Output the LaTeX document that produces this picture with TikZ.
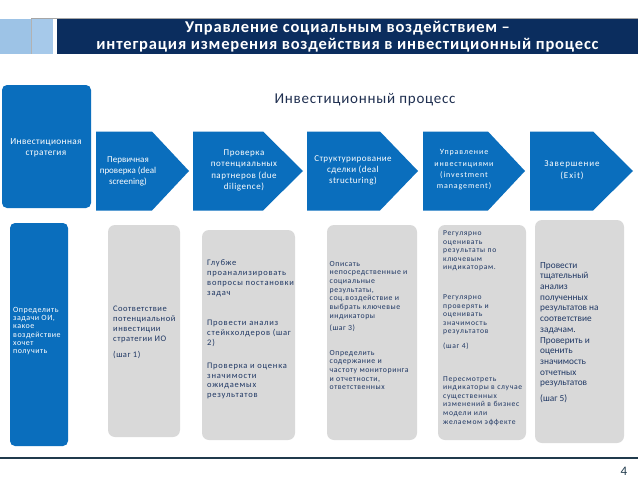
\documentclass[tikz,border=0pt]{standalone}
\usepackage{fontspec}
\setmainfont{Carlito}
\definecolor{navy}{HTML}{0B2D5E}
\definecolor{lblue}{HTML}{9DC3E6}
\definecolor{lblueb}{HTML}{A6C9EA}
\definecolor{mblue}{HTML}{0A6EBD}
\definecolor{gbox}{HTML}{D9D9D9}
\definecolor{gtext}{HTML}{203864}
\definecolor{fline}{HTML}{203A4C}
\definecolor{ptitle}{HTML}{1F2F50}
\newcommand{\fsz}[3]{\fontsize{#1}{#2}\selectfont\addfontfeature{LetterSpace=#3}}
\tikzset{
  bluebox/.style={fill=mblue, rounded corners=5pt, inner sep=0pt, draw=none},
  graybox/.style={fill=gbox, rounded corners=7pt, inner sep=0pt, draw=none},
  chevshape/.style={fill=mblue, draw=none},
  chevtxt/.style={text=white, align=center, inner sep=0pt, font=\fsz{9}{11}{0}},
  boxtxt/.style={text=gtext, align=left, inner sep=0pt, anchor=west},
}
\begin{document}
\begin{tikzpicture}[x=1pt,y=-1pt]
\useasboundingbox (0,0) rectangle (638,479);
\fill[white] (0,0) rectangle (638,479);
% header
\fill[lblue] (0,18.5) rectangle (31,54);
\fill[lblueb] (31,18.5) rectangle (53,54);
\draw[gray!60, line width=0.5pt] (31,18.5) -- (31,54);
\fill[navy] (57,18.5) rectangle (638,54);
\draw[gray!70, line width=0.6pt] (31,18.5) -- (638,18.5);
\node[text=white, align=center, inner sep=0pt, font=\bfseries\fsz{16.5}{17.5}{5}] (title) at (347.5,36.5)
  {Управление социальным воздействием –\\интеграция измерения воздействия в инвестиционный процесс};
% process title
\node[text=ptitle, inner sep=0pt, font=\fsz{15}{17}{5}] (proc) at (365,100) {Инвестиционный процесс};
% strategy box
\node[bluebox, minimum width=89pt, minimum height=123pt] (strat) at (46.5,146.5) {};
\node[chevtxt, font=\fsz{9.3}{11}{4}] (strattxt) at (46,147.5) {Инвестиционная\\стратегия};
% chevrons
\fill[chevshape] (96,131.5) -- (152,131.5) -- (189,171) -- (152,210.5) -- (96,210.5) -- cycle;
\fill[chevshape] (193,131.5) -- (263,131.5) -- (303,171) -- (263,210.5) -- (193,210.5) -- cycle;
\fill[chevshape] (307,131.5) -- (380,131.5) -- (418,171) -- (380,210.5) -- (307,210.5) -- cycle;
\fill[chevshape] (423,131.5) -- (488,131.5) -- (525,171) -- (488,210.5) -- (423,210.5) -- cycle;
\fill[chevshape] (530,131.5) -- (593,131.5) -- (633,171) -- (593,210.5) -- (530,210.5) -- cycle;
\node[chevtxt] (c1) at (128,171) {Первичная\\проверка (deal\\screening)};
\node[chevtxt, font=\fsz{9}{11.5}{6}] (c2) at (244,170.5) {Проверка\\потенциальных\\партнеров (due\\diligence)};
\node[chevtxt, font=\fsz{9}{11}{5}] (c3) at (353,170) {Структурирование\\сделки (deal\\structuring)};
\node[chevtxt, font=\fsz{8}{11.3}{11}] (c4) at (464,170) {Управление\\инвестициями\\(investment\\management)};
\node[chevtxt, font=\fsz{9}{12}{10}] (c5) at (572,170) {Завершение\\(Exit)};
% bottom boxes
\node[bluebox, minimum width=58pt, minimum height=223pt] (b1) at (39,334.5) {};
\node[graybox, minimum width=72pt, minimum height=212pt] (b2) at (144,331) {};
\node[graybox, minimum width=93pt, minimum height=210pt] (b3) at (248.5,335) {};
\node[graybox, minimum width=90pt, minimum height=215pt] (b4) at (372,332.5) {};
\node[graybox, minimum width=88pt, minimum height=215pt] (b5) at (482,332.5) {};
\node[graybox, minimum width=89pt, minimum height=223pt] (b6) at (579.5,331.5) {};
\node[boxtxt, text=white, font=\fsz{8}{8.3}{6}] (t1) at (13,331)
  {Определить\\задачи ОИ,\\какое\\воздействие\\хочет\\получить};
\node[boxtxt, font=\fsz{8.5}{10}{6}] (t2) at (113,332)
  {Соответствие\\потенциальной\\инвестиции\\стратегии ИО\\[6pt](шаг 1)};
\node[boxtxt, font=\fsz{8.5}{9.8}{9}] (t3) at (207,329.5)
  {Глубже\\проанализировать\\вопросы постановки\\задач\\[21pt]Провести анализ\\стейкхолдеров (шаг\\2)\\[13pt]Проверка и оценка\\значимости\\ожидаемых\\результатов};
\node[boxtxt, font=\fsz{7.8}{8.7}{7}] (t4) at (329.5,325.5)
  {Описать\\непосредственные и\\социальные\\результаты,\\соц.воздействие и\\выбрать ключевые\\индикаторы\\[3.4pt](шаг 3)\\[16pt]Определить\\содержание и\\частоту мониторинга\\и отчетности,\\ответственных};
\node[boxtxt, font=\fsz{7.6}{8.6}{9}] (t5) at (443,328)
  {Регулярно\\оценивать\\результаты по\\ключевым\\индикаторам.\\[21pt]Регулярно\\проверять и\\оценивать\\значимость\\результатов\\[6pt](шаг 4)\\[24pt]Пересмотреть\\индикаторы в случае\\существенных\\изменений в бизнес\\модели или\\желаемом эффекте};
\node[boxtxt, font=\fsz{9.3}{10.7}{0}] (t6) at (540,332.5)
  {Провести\\тщательный\\анализ\\полученных\\результатов на\\соответствие\\задачам.\\Проверить и\\оценить\\значимость\\отчетных\\результатов\\[5pt](шаг 5)};
% footer
\draw[fline, line width=2pt] (0,458) -- (638,458);
\node[text=fline, inner sep=0pt, font=\fontsize{13}{15}\selectfont] (pnum) at (624,471) {4};
\end{tikzpicture}
\end{document}
